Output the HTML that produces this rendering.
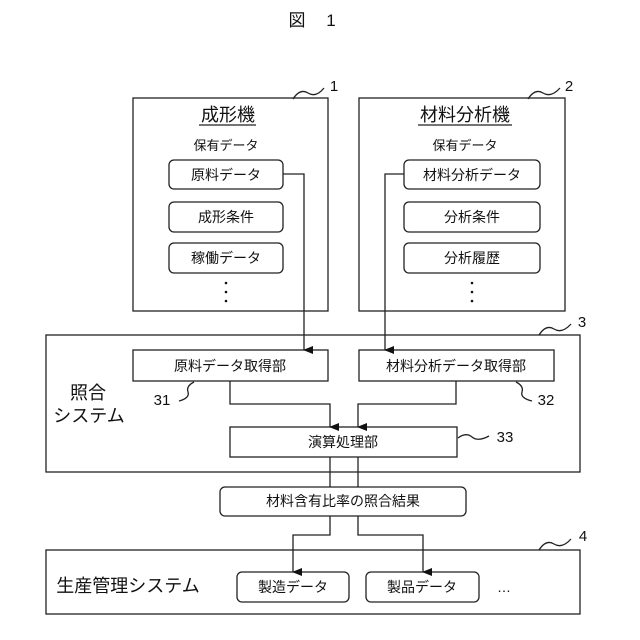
<!DOCTYPE html>
<html><head><meta charset="utf-8"><style>
html,body{margin:0;padding:0;background:#fff;}
svg{display:block;}
text{font-family:"Liberation Sans","Noto Sans CJK JP",sans-serif;fill:#111;}
</style></head><body>
<svg width="640" height="640" viewBox="0 0 640 640" xmlns="http://www.w3.org/2000/svg">
<defs><marker id="a" markerWidth="8" markerHeight="10" refX="4" refY="9" orient="auto-start-reverse" markerUnits="userSpaceOnUse"><path d="M0,0 L8,0 L4,10 Z" fill="#111" transform="rotate(0)"/></marker></defs>
<g stroke="#222" stroke-width="1.3" fill="none">
<!-- top title -->
</g>
<text x="297" y="26" font-size="17" text-anchor="middle">図</text>
<text x="331" y="26" font-size="17" text-anchor="middle">1</text>

<g stroke="#222" stroke-width="1.3" fill="none">
<rect x="133" y="98" width="195" height="213"/>
<rect x="359" y="98" width="206" height="213"/>
<rect x="169" y="160" width="114" height="29" rx="5"/>
<rect x="169" y="202" width="114" height="30" rx="5"/>
<rect x="169" y="243" width="114" height="30" rx="5"/>
<rect x="404" y="160" width="136" height="29" rx="5"/>
<rect x="404" y="202" width="136" height="30" rx="5"/>
<rect x="404" y="243" width="136" height="30" rx="5"/>
<line x1="199" y1="125" x2="256" y2="125"/>
<line x1="418" y1="125" x2="512" y2="125"/>
<path d="M293,99 Q300,88 308,93 Q316,98 324,88"/>
<path d="M528,99 Q535,88 543,93 Q551,98 560,88"/>
<path d="M539,335 Q546,324 554,329 Q562,334 571,324"/>
<path d="M539,550 Q546,539 554,544 Q562,549 571,539"/>
<rect x="46" y="335" width="534" height="137"/>
<rect x="133" y="350" width="195" height="31"/>
<rect x="359" y="350" width="195" height="31"/>
<rect x="230" y="427" width="227" height="30"/>
<rect x="220" y="487" width="246" height="29" rx="5"/>
<rect x="46" y="550" width="534" height="64"/>
<rect x="237" y="572" width="112" height="30" rx="5"/>
<rect x="366" y="572" width="113" height="30" rx="5"/>
<!-- connectors -->
<polyline points="283,174 304,174 304,350" marker-end="url(#a)"/>
<polyline points="404,174 385,174 385,350" marker-end="url(#a)"/>
<polyline points="230,381 230,404 330,404 330,427" marker-end="url(#a)"/>
<polyline points="456,381 456,404 358,404 358,427" marker-end="url(#a)"/>
<line x1="330" y1="457" x2="330" y2="487"/>
<line x1="358" y1="457" x2="358" y2="487"/>
<polyline points="330,516 330,535 293,535 293,572" marker-end="url(#a)"/>
<polyline points="358,516 358,535 423,535 423,572" marker-end="url(#a)"/>
<path d="M194,382 Q186,386 188,392 Q190,398 179,401"/>
<path d="M516,382 Q524,386 522,392 Q520,398 532,401"/>
<path d="M458,438 Q466,432 472,437 Q478,442 489,436"/>
</g>
<g font-size="14" text-anchor="middle">
<text x="228" y="121" font-size="18">成形機</text>
<text x="465" y="121" font-size="18">材料分析機</text>
<text x="226" y="150" font-size="13">保有データ</text>
<text x="465" y="150" font-size="13">保有データ</text>
<text x="226" y="180">原料データ</text>
<text x="226" y="222">成形条件</text>
<text x="226" y="263">稼働データ</text>
<text x="472" y="180">材料分析データ</text>
<text x="472" y="222">分析条件</text>
<text x="472" y="263">分析履歴</text>
<text x="230" y="371">原料データ取得部</text>
<text x="456" y="371">材料分析データ取得部</text>
<text x="343" y="447">演算処理部</text>
<text x="343" y="506">材料含有比率の照合結果</text>
<text x="293" y="592">製造データ</text>
<text x="422" y="592">製品データ</text>
<text x="504" y="592">…</text>
<text x="88" y="399" font-size="18">照合</text>
<text x="89" y="422" font-size="18">システム</text>
<text x="128" y="592" font-size="18">生産管理システム</text>
<text x="334" y="91" font-size="15">1</text>
<text x="569" y="91" font-size="15">2</text>
<text x="582" y="327" font-size="15">3</text>
<text x="583" y="541" font-size="15">4</text>
<text x="162" y="405" font-size="15">31</text>
<text x="546" y="405" font-size="15">32</text>
<text x="505" y="442" font-size="15">33</text>
</g>
<g fill="#111">
<circle cx="226" cy="283" r="1.3"/><circle cx="226" cy="292" r="1.3"/><circle cx="226" cy="301" r="1.3"/>
<circle cx="472" cy="283" r="1.3"/><circle cx="472" cy="292" r="1.3"/><circle cx="472" cy="301" r="1.3"/>
</g>
</svg>
</body></html>
